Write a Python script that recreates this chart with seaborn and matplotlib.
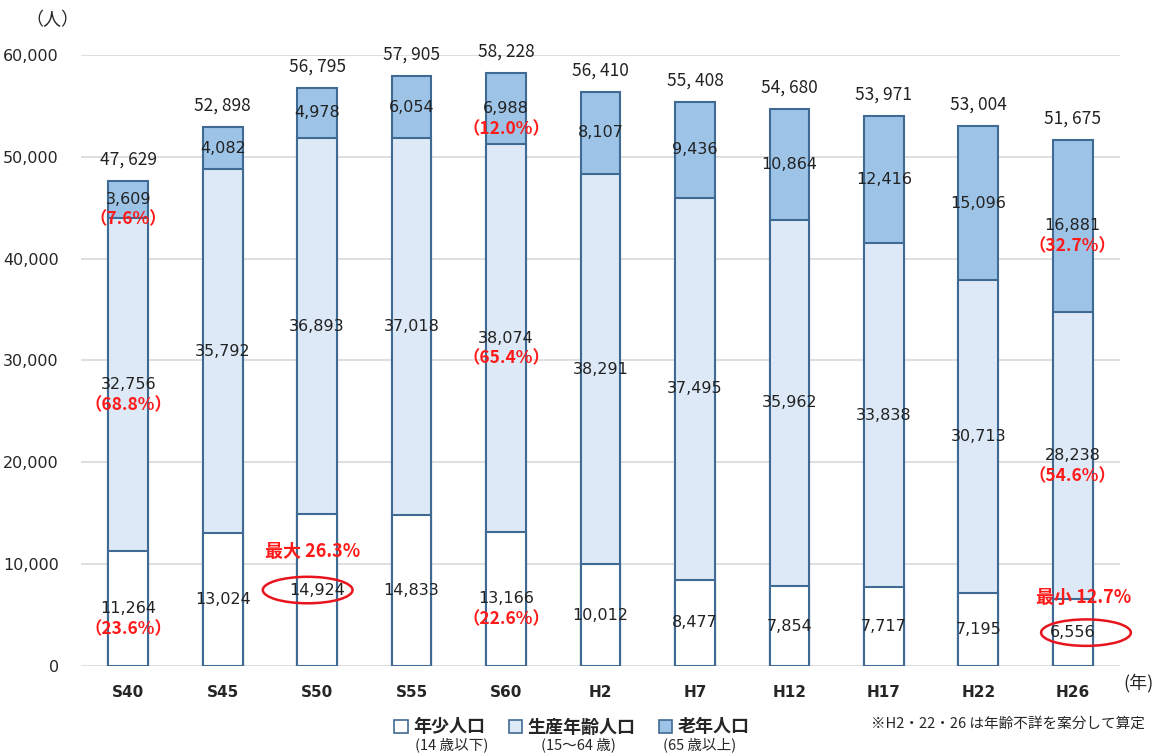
import numpy as np
import pandas as pd
import matplotlib.pyplot as plt
from matplotlib.patches import Ellipse, Patch
import seaborn as sns

sns.set_theme(style="white")
plt.rcParams['font.family'] = ['Noto Sans CJK JP', 'DejaVu Sans']

years = ['S40', 'S45', 'S50', 'S55', 'S60', 'H2', 'H7', 'H12', 'H17', 'H22', 'H26']
young = [11264, 13024, 14924, 14833, 13166, 10012, 8477, 7854, 7717, 7195, 6556]
working = [32756, 35792, 36893, 37018, 38074, 38291, 37495, 35962, 33838, 30713, 28238]
old = [3609, 4082, 4978, 6054, 6988, 8107, 9436, 10864, 12416, 15096, 16881]
totals = [47629, 52898, 56795, 57905, 58228, 56410, 55408, 54680, 53971, 53004, 51675]

# percentage notes shown in red: (index, segment, text)
pct_notes = [(0, 'old', '（7.6%）'), (0, 'working', '（68.8%）'), (0, 'young', '（23.6%）'),
             (4, 'old', '（12.0%）'), (4, 'working', '（65.4%）'), (4, 'young', '（22.6%）'),
             (10, 'old', '（32.7%）'), (10, 'working', '（54.6%）')]

df = pd.DataFrame({'year': years, 'young': young, 'working': working, 'old': old})
df['yw'] = df['young'] + df['working']
df['total'] = df['yw'] + df['old']

c_young = '#ffffff'
c_work = '#dde9f6'
c_old = '#9dc3e6'
c_edge = '#3f6a94'

fig = plt.figure(figsize=(11.57, 7.53), dpi=100)
ax = fig.add_axes([0.07, 0.1155, 0.898, 0.8115])

w = 0.42
sns.barplot(data=df, x='year', y='total', order=years, color=c_old, width=w,
            edgecolor=c_edge, linewidth=1.5, saturation=1, ax=ax)
sns.barplot(data=df, x='year', y='yw', order=years, color=c_work, width=w,
            edgecolor=c_edge, linewidth=1.5, saturation=1, ax=ax)
sns.barplot(data=df, x='year', y='young', order=years, color=c_young, width=w,
            edgecolor=c_edge, linewidth=1.5, saturation=1, ax=ax)

ax.set_xlim(-0.5, 10.5)
ax.set_ylim(0, 60000)
ax.set_yticks(range(0, 60001, 10000))
ax.set_yticklabels([f'{v:,}' for v in range(0, 60001, 10000)], fontsize=11.5,
                   family=['DejaVu Sans'])
ax.set_xticks(range(len(years)))
ax.set_xticklabels(years, fontsize=11, fontweight='bold', family=['DejaVu Sans'])
ax.tick_params(axis='y', pad=16, length=0)
ax.tick_params(axis='x', pad=14, length=0)
ax.yaxis.grid(True, color='#d9d9d9', linewidth=1.2)
ax.set_axisbelow(True)
for s in ax.spines.values():
    s.set_visible(False)
ax.set_xlabel('')
ax.set_ylabel('')

mids = {'young': df['young'] / 2,
        'working': df['young'] + df['working'] / 2,
        'old': df['yw'] + df['old'] / 2}
vals = {'young': young, 'working': working, 'old': old}

for i in range(len(years)):
    for seg in ['young', 'working', 'old']:
        ax.text(i, mids[seg][i], f'{vals[seg][i]:,}', ha='center', va='center',
                fontsize=11.5, color='#222222', family=['DejaVu Sans'])
    ax.text(i, totals[i] + 2100, f'{totals[i]:,}'.replace(',', ', '), ha='center',
            va='center', fontsize=12.5, color='#222222')

for i, seg, t in pct_notes:
    ax.text(i, mids[seg][i] - 2000, t, ha='center', va='center', fontsize=12.5,
            color='#ff1a1a', fontweight='bold')

# max / min highlights
ax.add_patch(Ellipse((1.9, mids['young'][2]), 0.95, 2600, fill=False,
                     edgecolor='#e8141e', linewidth=1.8, clip_on=False))
ax.text(1.95, 11200, '最大 26.3%', ha='center', va='center', fontsize=13,
        color='#ff1a1a', fontweight='bold')
ax.add_patch(Ellipse((10.14, mids['young'][10]), 0.95, 2600, fill=False,
                     edgecolor='#e8141e', linewidth=1.8, clip_on=False))
ax.text(10.12, 6700, '最小 12.7%', ha='center', va='center', fontsize=13,
        color='#ff1a1a', fontweight='bold')

fig.text(25 / 1157, 1 - 20 / 753, '（人）', ha='left', va='center', fontsize=13)
fig.text(1154 / 1157, 1 - 683 / 753, '(年)', ha='right', va='center', fontsize=13)

handles = [Patch(facecolor=c, edgecolor=c_edge, linewidth=1.2)
           for c in [c_young, c_work, c_old]]
fig.legend(handles, ['年少人口', '生産年齢人口', '老年人口'], loc='center',
           bbox_to_anchor=(572 / 1157, 1 - 727 / 753), ncol=3, frameon=False,
           handlelength=0.75, handleheight=0.75, handletextpad=0.3,
           columnspacing=1.3, prop={'size': 13, 'weight': 'bold',
                                     'family': ['Noto Sans CJK JP']})
for x, t in [(452, '(14 歳以下)'), (578, '(15～64 歳)'), (700, '(65 歳以上)')]:
    fig.text(x / 1157, 1 - 745 / 753, t, ha='center', va='center', fontsize=10.5)
fig.text(1145 / 1157, 1 - 724 / 753, '※H2・22・26 は年齢不詳を案分して算定',
         ha='right', va='center', fontsize=10.5)

fig.savefig('out.png', dpi=100)
